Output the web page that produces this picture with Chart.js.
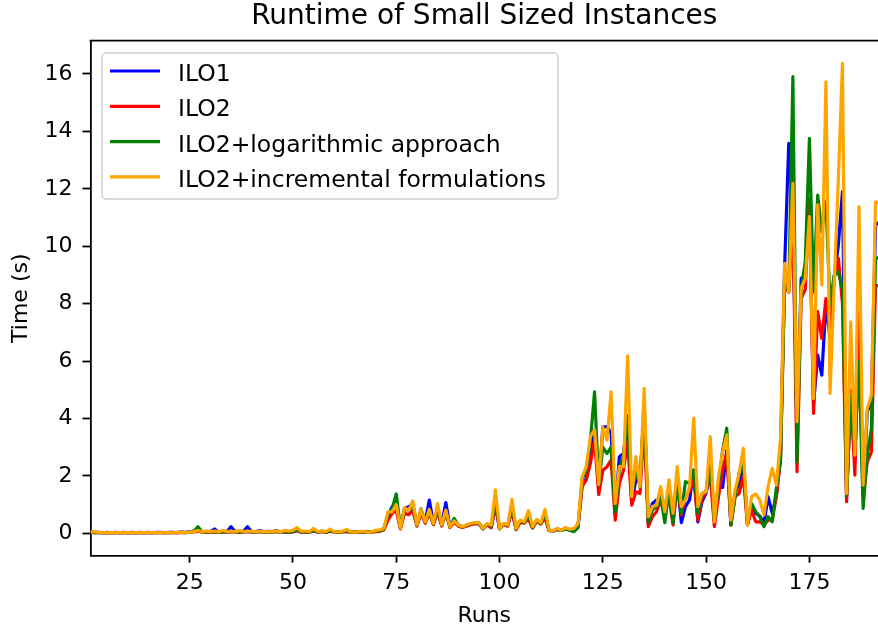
<!DOCTYPE html>
<html>
<head>
<meta charset="utf-8">
<script src="https://cdn.jsdelivr.net/npm/chart.js@4.4.1/dist/chart.umd.min.js"></script>
<style>
  html, body { margin: 0; padding: 0; background: #fff; overflow: hidden; }
  #wrap { width: 878px; height: 634px; position: relative; }
</style>
</head>
<body>
<div id="wrap"><canvas id="runtime"></canvas></div>
<script>
// series labels and colours
const seriesNames = ["ILO1", "ILO2", "ILO2+logarithmic approach", "ILO2+incremental formulations"];
const seriesColors = ["#0000ff", "#ff0000", "#008000", "#ffa500"];

// runtime in seconds, run 1..192
const ilo1 = [
  0.04,0.03,0.03,0.02,0.03,0.02,0.03,0.02,0.03,0.02,
  0.03,0.02,0.03,0.02,0.03,0.02,0.03,0.03,0.02,0.03,
  0.03,0.02,0.04,0.03,0.05,0.08,0.09,0.05,0.07,0.06,
  0.15,0.04,0.06,0.05,0.23,0.05,0.07,0.06,0.23,0.05,
  0.06,0.10,0.05,0.07,0.06,0.09,0.05,0.06,0.05,0.06,
  0.12,0.04,0.06,0.05,0.10,0.05,0.07,0.04,0.09,0.05,
  0.04,0.06,0.08,0.05,0.04,0.06,0.05,0.04,0.05,0.07,
  0.08,0.15,0.60,0.93,0.90,0.17,0.85,0.93,1.00,0.29,
  0.75,0.40,1.16,0.34,0.80,0.29,1.07,0.23,0.45,0.29,
  0.23,0.27,0.32,0.35,0.35,0.17,0.32,0.20,1.00,0.17,
  0.32,0.29,0.80,0.15,0.40,0.38,0.55,0.20,0.45,0.35,
  0.60,0.10,0.09,0.15,0.11,0.18,0.12,0.12,0.25,1.74,
  1.90,2.90,3.60,1.60,3.70,3.72,3.50,0.70,2.67,2.78,
  3.90,1.10,1.86,1.86,4.30,0.40,1.04,1.16,1.16,0.70,
  1.39,0.46,1.86,0.37,0.93,1.16,2.20,0.40,1.10,1.40,
  2.20,0.46,1.63,1.60,2.90,0.30,1.40,1.74,2.50,0.30,
  0.90,0.70,0.60,0.35,1.28,0.70,1.30,2.70,9.30,13.58,
  11.00,3.50,8.88,9.00,11.50,4.50,6.21,5.51,8.00,6.79,
  8.90,10.04,11.90,1.30,4.80,2.50,7.00,1.30,4.23,4.58,
  10.74,10.85
];
const ilo2 = [
  0.03,0.02,0.02,0.02,0.02,0.02,0.02,0.02,0.02,0.02,
  0.02,0.02,0.02,0.02,0.02,0.02,0.02,0.02,0.02,0.02,
  0.02,0.02,0.03,0.02,0.04,0.05,0.07,0.04,0.05,0.04,
  0.05,0.03,0.05,0.04,0.06,0.04,0.05,0.04,0.06,0.04,
  0.05,0.06,0.04,0.05,0.05,0.06,0.04,0.05,0.04,0.05,
  0.09,0.04,0.05,0.04,0.08,0.04,0.06,0.03,0.07,0.04,
  0.03,0.05,0.06,0.04,0.03,0.05,0.04,0.03,0.04,0.06,
  0.07,0.12,0.46,0.70,0.80,0.15,0.70,0.65,0.80,0.25,
  0.70,0.35,0.70,0.30,0.75,0.25,0.70,0.20,0.38,0.25,
  0.20,0.25,0.30,0.33,0.33,0.15,0.30,0.20,1.00,0.15,
  0.30,0.25,0.80,0.13,0.38,0.35,0.50,0.18,0.42,0.32,
  0.55,0.09,0.08,0.13,0.10,0.16,0.11,0.12,0.25,1.63,
  1.86,2.44,3.25,1.35,2.20,2.32,2.55,0.46,1.74,2.20,
  3.20,0.98,1.45,1.39,3.80,0.23,0.58,0.75,1.16,0.70,
  1.28,0.29,1.74,0.64,1.28,1.45,1.90,0.46,1.22,1.45,
  2.00,0.23,1.28,2.20,2.80,0.29,1.28,1.39,2.00,0.29,
  0.81,0.40,0.40,0.30,0.46,0.46,1.28,2.60,8.60,8.40,
  11.00,2.15,8.18,8.50,11.67,4.18,7.72,6.79,8.18,7.14,
  8.88,9.58,8.00,1.10,5.00,2.03,8.00,1.30,2.49,2.84,
  8.65,8.60
];
const ilo2Log = [
  0.03,0.02,0.02,0.02,0.02,0.02,0.02,0.02,0.02,0.02,
  0.02,0.02,0.02,0.02,0.02,0.02,0.02,0.02,0.02,0.02,
  0.02,0.03,0.03,0.02,0.05,0.07,0.23,0.05,0.06,0.05,
  0.06,0.04,0.06,0.05,0.07,0.05,0.06,0.05,0.08,0.05,
  0.05,0.07,0.05,0.06,0.05,0.07,0.05,0.06,0.05,0.07,
  0.12,0.05,0.06,0.05,0.10,0.05,0.07,0.04,0.10,0.05,
  0.04,0.06,0.08,0.05,0.04,0.06,0.05,0.04,0.05,0.08,
  0.08,0.15,0.65,0.85,1.37,0.20,0.85,0.80,1.00,0.28,
  0.85,0.40,0.80,0.33,0.90,0.28,0.75,0.22,0.52,0.28,
  0.22,0.28,0.33,0.36,0.36,0.16,0.33,0.25,1.20,0.16,
  0.33,0.28,1.00,0.15,0.44,0.38,0.60,0.20,0.46,0.35,
  0.65,0.10,0.08,0.14,0.10,0.15,0.10,0.06,0.20,1.90,
  2.20,3.25,4.93,1.68,3.00,2.78,3.00,0.75,2.20,2.70,
  4.10,1.39,2.20,1.63,4.60,0.37,0.81,0.93,1.28,0.37,
  1.51,0.35,1.86,0.70,1.80,1.74,2.20,0.70,1.39,1.45,
  2.60,0.40,1.74,2.90,3.66,0.29,1.28,2.09,2.50,0.40,
  1.04,0.75,0.58,0.23,0.58,0.40,1.57,2.50,8.90,8.40,
  15.91,2.49,8.50,9.46,13.76,8.40,11.78,10.50,11.55,8.00,
  9.00,9.11,8.50,1.30,4.80,3.07,6.00,0.87,2.72,3.65,
  9.58,9.60
];
const ilo2Inc = [
  0.05,0.06,0.03,0.03,0.02,0.03,0.02,0.03,0.02,0.03,
  0.02,0.03,0.02,0.03,0.02,0.03,0.02,0.03,0.02,0.03,
  0.02,0.03,0.03,0.03,0.04,0.06,0.10,0.05,0.08,0.06,
  0.08,0.05,0.10,0.06,0.08,0.05,0.10,0.06,0.08,0.07,
  0.06,0.08,0.05,0.07,0.06,0.08,0.05,0.10,0.08,0.10,
  0.20,0.07,0.08,0.06,0.17,0.06,0.08,0.06,0.15,0.05,
  0.05,0.07,0.13,0.05,0.04,0.06,0.07,0.04,0.05,0.10,
  0.12,0.17,0.75,0.75,1.00,0.17,0.90,0.80,1.13,0.29,
  0.83,0.40,0.83,0.34,1.04,0.29,0.81,0.23,0.43,0.29,
  0.23,0.29,0.34,0.37,0.37,0.17,0.34,0.29,1.51,0.17,
  0.34,0.29,1.18,0.17,0.46,0.40,0.79,0.23,0.48,0.37,
  0.83,0.11,0.09,0.17,0.11,0.20,0.14,0.17,0.34,1.97,
  2.32,3.37,3.60,1.70,3.69,3.25,4.93,1.04,2.32,2.32,
  6.18,1.28,2.67,1.63,5.05,0.58,0.93,0.98,1.63,0.75,
  1.86,0.70,2.32,0.93,1.16,1.63,4.01,0.93,1.39,1.45,
  3.37,0.40,1.97,2.84,3.43,0.46,1.51,2.09,2.96,0.29,
  1.28,1.37,1.16,0.64,1.63,2.26,1.68,3.31,9.40,8.40,
  12.19,3.89,8.53,8.88,11.03,4.70,11.44,8.65,15.73,4.87,
  8.70,12.30,16.37,1.39,7.37,2.72,11.38,1.68,4.35,4.82,
  11.55,11.50
];

const xTicks = [25, 50, 75, 100, 125, 150, 175];
const yTicks = [0, 2, 4, 6, 8, 10, 12, 14, 16];

const FONT = "'DejaVu Sans', sans-serif";
const allSeries = [ilo1, ilo2, ilo2Log, ilo2Inc];

const datasets = allSeries.map((vals, i) => ({
    label: seriesNames[i],
    data: vals.map((v, k) => ({x: k + 1, y: v})),
    borderColor: seriesColors[i],
    backgroundColor: seriesColors[i],
    borderWidth: 3.2,
    borderJoinStyle: 'round',
    pointRadius: 0,
    fill: false,
    tension: 0,
    order: allSeries.length - i   // later series drawn on top, like matplotlib
}));

// top spine + matplotlib style legend box
const framePlugin = {
    id: 'frame',
    afterDraw(chart) {
        const ctx = chart.ctx;
        const a = chart.chartArea;
        ctx.save();
        ctx.strokeStyle = '#000';
        ctx.lineWidth = 1.8;
        ctx.beginPath();
        ctx.moveTo(a.left - 0.9, a.top);
        ctx.lineTo(a.right + 2, a.top);
        ctx.stroke();

        // legend
        const bx = 102, by = 53, bw = 456, bh = 146;
        ctx.beginPath();
        ctx.roundRect(bx, by, bw, bh, 4);
        ctx.fillStyle = 'rgba(255,255,255,0.8)';
        ctx.fill();
        ctx.strokeStyle = '#d0d0d0';
        ctx.lineWidth = 1.5;
        ctx.stroke();

        ctx.font = "23.5px " + FONT;
        ctx.textAlign = 'left';
        ctx.textBaseline = 'alphabetic';
        seriesNames.forEach((name, i) => {
            const y = 71 + i * 35.3;
            ctx.strokeStyle = seriesColors[i];
            ctx.lineWidth = 3.2;
            ctx.beginPath();
            ctx.moveTo(110, y);
            ctx.lineTo(160, y);
            ctx.stroke();
            ctx.fillStyle = '#000';
            ctx.fillText(name, 178, y + 10);
        });
        ctx.restore();
    }
};

new Chart(document.getElementById("runtime"), {
    type: 'line',
    data: { datasets: datasets },
    options: {
        responsive: true,
        maintainAspectRatio: false,
        animation: false,
        events: [],
        layout: { padding: { left: 0, right: 0, top: 0, bottom: 0 } },
        plugins: {
            legend: { display: false },
            tooltip: { enabled: false },
            title: {
                display: true,
                text: 'Runtime of Small Sized Instances',
                fullSize: false,
                color: '#000',
                font: { family: FONT, size: 28, weight: 'normal', lineHeight: 1.0 },
                padding: { top: 3, bottom: 9.7 }
            }
        },
        scales: {
            x: {
                type: 'linear',
                min: 1,
                max: 191.6,
                afterBuildTicks: (s) => { s.ticks = xTicks.map(v => ({value: v})); },
                afterFit: (s) => { s.height = 78.3; },
                grid: { drawOnChartArea: false, drawTicks: true, tickLength: 7, tickWidth: 1.8, tickColor: '#000' },
                border: { display: true, color: '#000', width: 1.8 },
                ticks: { color: '#000', padding: 7, maxRotation: 0, font: { family: FONT, size: 22 } },
                title: {
                    display: true, text: 'Runs', color: '#000',
                    font: { family: FONT, size: 22 },
                    padding: { top: 0, bottom: 5 }
                }
            },
            y: {
                type: 'linear',
                min: -0.78,
                max: 17.16,
                afterBuildTicks: (s) => { s.ticks = yTicks.map(v => ({value: v})); },
                afterFit: (s) => { s.width = 90.5; },
                grid: { drawOnChartArea: false, drawTicks: true, tickLength: 8, tickWidth: 1.8, tickColor: '#000' },
                border: { display: true, color: '#000', width: 1.8 },
                ticks: { color: '#000', padding: 10, font: { family: FONT, size: 22 } },
                title: {
                    display: true, text: 'Time (s)', color: '#000',
                    font: { family: FONT, size: 22 },
                    padding: { top: 8.5, bottom: 0 }
                }
            }
        }
    },
    plugins: [framePlugin]
});
</script>
</body>
</html>
